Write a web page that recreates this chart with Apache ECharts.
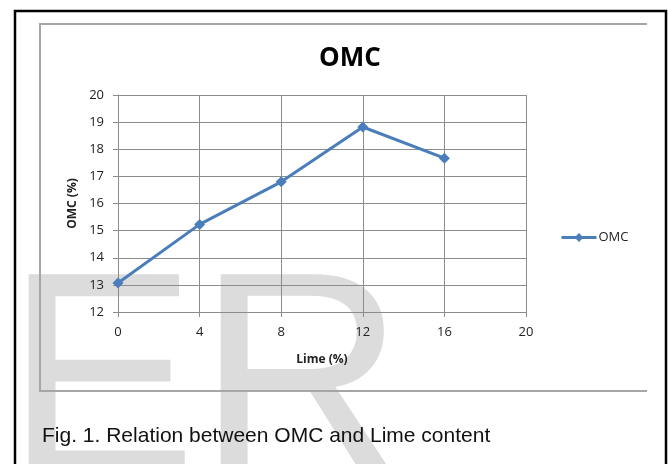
<!DOCTYPE html>
<html>
<head>
<meta charset="utf-8">
<script src="https://cdn.jsdelivr.net/npm/echarts@6/dist/echarts.min.js"></script>
<style>
  html, body { margin: 0; padding: 0; background: #fff; }
  #chart { width: 668px; height: 464px; }
</style>
</head>
<body>
<div id="chart"></div>
<script>
// values
const limeContent = [0, 4, 8, 12, 16];
const omcValues = [13.07, 15.23, 16.8, 18.82, 17.67];
const xTicks = { min: 0, max: 20, interval: 4 };
const yTicks = { min: 12, max: 20, interval: 1 };

const chart = echarts.init(document.getElementById('chart'));

const blue = '#4a7ebb';
const gridGray = '#8c8c8c';
const labelFont = 'Open Sans';

const option = {
  animation: false,
  title: {
    text: 'OMC',
    left: 345,
    top: 41,
    textAlign: 'center',
    textStyle: { fontFamily: labelFont, fontWeight: 'bold', fontSize: 26, color: '#000' },
  },
  legend: {
    left: 555,
    top: 226,
    itemWidth: 35,
    itemHeight: 11,
    itemGap: 0,
    lineStyle: { width: 3 },
    textStyle: { fontFamily: labelFont, fontSize: 13, color: '#222', padding: [0, 0, 0, -3] },
    data: ['OMC'],
  },
  grid: { left: 118, top: 95, right: 142, bottom: 152 },
  xAxis: {
    type: 'value',
    min: xTicks.min,
    max: xTicks.max,
    interval: xTicks.interval,
    name: 'Lime (%)',
    nameLocation: 'middle',
    nameGap: 42,
    nameTextStyle: { fontFamily: labelFont, fontWeight: 'bold', fontSize: 12, color: '#222' },
    axisLine: { lineStyle: { color: gridGray, width: 1 } },
    axisTick: { show: true, length: 5, lineStyle: { color: gridGray } },
    axisLabel: { margin: 14, fontFamily: labelFont, fontSize: 13, color: '#222' },
    splitLine: { show: true, lineStyle: { color: gridGray, width: 1 } },
  },
  yAxis: {
    type: 'value',
    min: yTicks.min,
    max: yTicks.max,
    interval: yTicks.interval,
    name: 'OMC (%)',
    nameLocation: 'middle',
    nameGap: 39,
    nameTextStyle: { fontFamily: labelFont, fontWeight: 'bold', fontSize: 12, color: '#222' },
    axisLine: { show: true, lineStyle: { color: gridGray, width: 1 } },
    axisTick: { show: true, length: 5, lineStyle: { color: gridGray } },
    axisLabel: { margin: 14, fontFamily: labelFont, fontSize: 13, color: '#222' },
    splitLine: { show: true, lineStyle: { color: gridGray, width: 1 } },
  },
  series: [
    {
      name: 'OMC',
      type: 'line',
      data: limeContent.map((x, i) => [x, omcValues[i]]),
      symbol: 'diamond',
      symbolSize: 11,
      lineStyle: { color: blue, width: 3 },
      itemStyle: { color: blue },
    },
  ],
  graphic: [
    {
      type: 'text',
      z: -10,
      silent: true,
      style: {
        text: 'ER',
        x: 5,
        y: 393,
        font: '288px "Liberation Sans"',
        fill: '#dcdcdc',
        textAlign: 'left',
        textVerticalAlign: 'middle',
      },
    },
    {
      type: 'polyline',
      shape: { points: [[647, 24], [40, 24], [40, 391], [647, 391]] },
      style: { stroke: '#a6a6a6', lineWidth: 2, fill: null },
    },
    {
      type: 'rect',
      shape: { x: 15, y: 11, width: 651, height: 500 },
      style: { stroke: '#000', lineWidth: 2.5, fill: null },
    },
    {
      type: 'text',
      style: {
        text: 'Fig. 1. Relation between OMC and Lime content',
        x: 42,
        y: 436.5,
        font: '21px "Liberation Sans"',
        fill: '#111',
        textAlign: 'left',
        textVerticalAlign: 'middle',
      },
    },
  ],
};

chart.setOption(option);
</script>
</body>
</html>
